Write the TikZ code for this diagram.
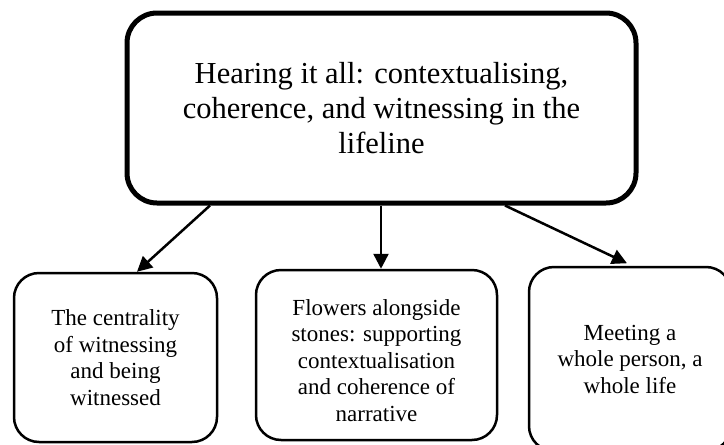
\documentclass[tikz,border=0pt]{standalone}
\usepackage{fontspec}
\setmainfont{Liberation Serif}
\usetikzlibrary{arrows.meta}
\begin{document}
\begin{tikzpicture}[x=1pt,y=-1pt,
  topbox/.style={draw, line width=5pt, rounded corners=30pt, align=center,
    font=\fontsize{30.5}{35}\selectfont, inner sep=0pt},
  subbox/.style={draw, line width=2.5pt, rounded corners=25pt, align=center,
    font=\fontsize{23}{26.5}\selectfont, inner sep=0pt},
  link/.style={line width=2.5pt, -{Triangle[length=15pt,width=15pt]}}]
\useasboundingbox (0,0) rectangle (724,445);
\clip (0,0) rectangle (724,445);
\node[topbox, minimum width=509pt, minimum height=190pt] (top) at (381.5,108)
  {Hearing it all: contextualising,\\coherence, and witnessing in the\\lifeline};
\node[subbox, minimum width=203pt, minimum height=169pt] (left) at (115.5,357.5)
  {The centrality\\of witnessing\\and being\\witnessed};
\node[subbox, minimum width=241pt, minimum height=170pt] (mid) at (376.5,355)
  {\rule{0pt}{27pt}Flowers alongside\\stones: supporting\\contextualisation\\and coherence of\\narrative};
\node[subbox, minimum width=202pt, minimum height=184pt] (right) at (630,359)
  {Meeting a\\whole person, a\\whole life};
\draw[link] ([xshift=-171.5pt]top.south) -- ([xshift=21.5pt]left.north);
\draw[link] ([xshift=-0.5pt]top.south) -- ([xshift=-0.5pt]top.south |- mid.north);
\draw[link] ([xshift=123.5pt]top.south) -- ([xshift=-3pt,yshift=2.5pt]right.north);
\end{tikzpicture}
\end{document}
